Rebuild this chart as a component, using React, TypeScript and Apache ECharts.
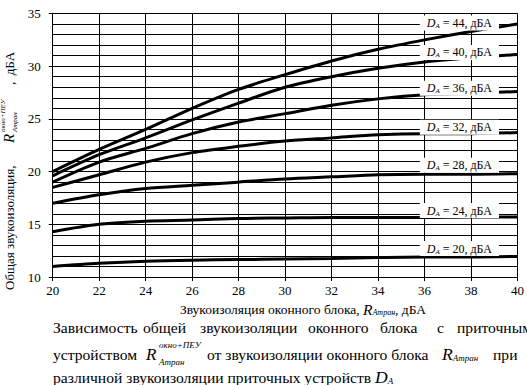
import React, { useEffect, useRef } from "react";
import * as echarts from "echarts";

const xValues = [20, 22, 24, 26, 28, 30, 32, 34, 36, 38, 40];
const d44 = [20.0, 22.1, 24.0, 26.0, 27.8, 29.2, 30.5, 31.6, 32.5, 33.3, 34.0];
const d40 = [19.6, 21.6, 23.2, 24.9, 26.5, 28.0, 29.0, 29.8, 30.4, 30.8, 31.1];
const d36 = [19.0, 20.9, 22.2, 23.6, 24.7, 25.5, 26.3, 26.9, 27.3, 27.4, 27.6];
const d32 = [18.5, 19.7, 20.9, 21.8, 22.4, 22.9, 23.2, 23.5, 23.6, 23.6, 23.7];
const d28 = [17.0, 17.8, 18.4, 18.7, 19.0, 19.3, 19.5, 19.7, 19.75, 19.75, 19.8];
const d24 = [14.3, 15.0, 15.3, 15.4, 15.55, 15.6, 15.65, 15.65, 15.65, 15.7, 15.7];
const d20 = [11.0, 11.3, 11.5, 11.6, 11.65, 11.7, 11.75, 11.85, 11.9, 11.9, 11.95];

const seriesValues = [d44, d40, d36, d32, d28, d24, d20];
const daLevels = [44, 40, 36, 32, 28, 24, 20];
const labelX = 37.5;
const labelY = [34.1, 31.3, 27.9, 24.2, 20.6, 16.3, 12.7];

const FONT = "Liberation Serif";

export default function App() {
  const ref = useRef<HTMLDivElement>(null);
  useEffect(() => {
    if (!ref.current) return;
    const chart = echarts.init(ref.current, null, { renderer: "svg" });
    const series = seriesValues.map((vals, i) => ({
      type: "line",
      name: "D" + daLevels[i],
      data: xValues.map((x, j) => [x, vals[j]]),
      smooth: 0.3,
      showSymbol: false,
      symbol: "none",
      lineStyle: { color: "#000", width: 3 },
      z: 3,
      markPoint: {
        symbol: "rect",
        symbolSize: 0,
        z: 5,
        data: [{ coord: [labelX, labelY[i]], value: daLevels[i] }],
        label: {
          show: true,
          position: "inside",
          backgroundColor: "#fff",
          padding: [1, 7, 1, 7],
          color: "#000",
          formatter: () => "{i|D}{s|A}{n| = " + daLevels[i] + ", дБА}",
          rich: {
            i: { fontFamily: FONT, fontStyle: "italic", fontSize: 12, color: "#000" },
            s: { fontFamily: FONT, fontStyle: "italic", fontSize: 7, color: "#000", padding: [6, 0, 0, 0] },
            n: { fontFamily: FONT, fontSize: 12, color: "#000" },
          },
        },
      },
    }));

    const t = (text: string, x: number, y: number, size: number, extra: any = {}) => ({
      type: "text",
      x,
      y,
      z: 10,
      style: {
        text,
        fontFamily: FONT,
        fontSize: size,
        fontStyle: extra.italic ? "italic" : "normal",
        fill: "#000",
        textAlign: extra.align || "left",
        textVerticalAlign: "middle",
        rich: extra.rich,
      },
    });

    const richBase = (size: number, subSize: number, subPad: number) => ({
      n: { fontFamily: FONT, fontSize: size, color: "#000" },
      i: { fontFamily: FONT, fontSize: size + 2, fontStyle: "italic", color: "#000" },
      s: { fontFamily: FONT, fontSize: subSize, fontStyle: "italic", color: "#000", padding: [subPad, 0, 0, 0] },
    });

    const CAP = 15.6;

    chart.setOption({
      animation: false,
      backgroundColor: "#fff",
      grid: { left: 52.7, right: 7.7, top: 13.5, bottom: 108, containLabel: false },
      xAxis: {
        type: "value",
        min: 20,
        max: 40,
        interval: 2,
        axisLine: { show: true, lineStyle: { color: "#000", width: 1 } },
        axisTick: { show: true, length: 4, lineStyle: { color: "#000" } },
        axisLabel: { color: "#000", fontFamily: FONT, fontSize: 13, margin: 7 },
        splitLine: { show: true, lineStyle: { color: "#000", width: 1 } },
      },
      yAxis: {
        type: "value",
        min: 10,
        max: 35,
        interval: 5,
        axisLine: { show: true, lineStyle: { color: "#000", width: 1 } },
        axisTick: { show: true, length: 4, lineStyle: { color: "#000" } },
        axisLabel: { color: "#000", fontFamily: FONT, fontSize: 13, margin: 12 },
        splitLine: { show: true, lineStyle: { color: "#000", width: 1 } },
        minorTick: { show: false, splitNumber: 5 },
        minorSplitLine: { show: true, lineStyle: { color: "#000", width: 1 } },
      },
      series,
      graphic: [
        {
          type: "group",
          x: 9,
          y: 290,
          rotation: Math.PI / 2,
          children: [
            t("Общая звукоизоляция,", 0, 0, 13),
            t("R", 147, 0, 15, { italic: true }),
            t("окно+ПЕУ", 158, -6, 7, { italic: true }),
            t("Атран", 158, 6, 7, { italic: true }),
            t(",  дБА", 205, 0, 13),
          ],
        },
        t("{n|Звукоизоляция оконного блока, }{i|R}{s|Атран}{n|, дБА}", 303, 309, 13.5, {
          align: "center",
          rich: richBase(13.5, 8, 6),
        }),
        // caption line 1
        t("Зависимость", 53, 327, CAP),
        t("общей", 143, 327, CAP),
        t("звукоизоляции", 200, 327, CAP),
        t("оконного", 308, 327, CAP),
        t("блока", 380, 327, CAP),
        t("с", 437, 327, CAP),
        t("приточным", 457, 327, CAP),
        // caption line 2
        t("устройством", 53, 354, CAP),
        t("R", 146, 354, 17, { italic: true }),
        t("окно+ПЕУ", 159, 345, 9, { italic: true }),
        t("Атран", 159, 362, 9, { italic: true }),
        t("от звукоизоляции оконного блока", 207, 354, CAP),
        t("{i|R}{s|Атран}", 442, 354, CAP, { rich: richBase(CAP, 9, 7) }),
        t("при", 493, 354, CAP),
        // caption line 3
        t("{n|различной звукоизоляции приточных устройств }{i|D}{s|A}", 53, 377, CAP, {
          rich: richBase(CAP, 9, 8),
        }),
      ],
    });
    return () => chart.dispose();
  }, []);
  return (
    <div
      ref={ref}
      style={{ position: "fixed", left: 0, top: 0, width: 527, height: 385 }}
    />
  );
}
